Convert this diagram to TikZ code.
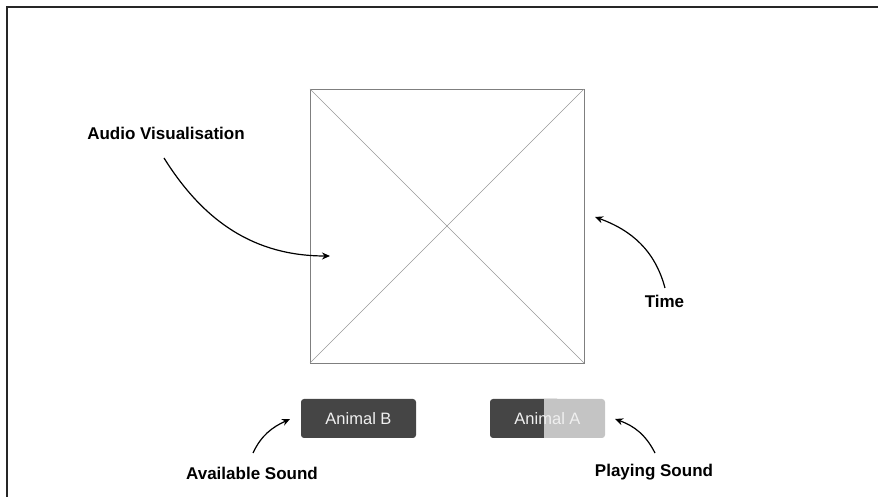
\documentclass[tikz,border=0pt]{standalone}
\usepackage{fontspec}
\setmainfont{Liberation Sans}
\usetikzlibrary{arrows.meta}
\definecolor{btndark}{HTML}{454545}
\definecolor{btnlight}{HTML}{C4C4C4}
\definecolor{wire}{HTML}{7F7F7F}
\begin{document}
\begin{tikzpicture}[x=1pt, y=1pt,
  every node/.style={inner sep=0pt},
  label/.style={font=\fontsize{17}{19}\selectfont\bfseries, text=black},
  btntext/.style={font=\fontsize{16.5}{18}\selectfont, text=white!94!black},
  pointer/.style={-{Stealth[length=8pt, width=7pt]}, line width=1.2pt, black}]
\useasboundingbox (0,0) rectangle (878,497);
% frame
\draw[line width=2pt, black!85] (7,0) -- (7,490) -- (878,490);

% placeholder for the visualisation
\coordinate (SW) at (310,134);
\coordinate (NE) at (584,408);
\draw[wire, line width=0.8pt] (SW) rectangle (NE);
\draw[wire!80, line width=0.5pt] (SW) -- (NE);
\draw[wire!80, line width=0.5pt] (310,408) -- (584,134);

% buttons
\fill[btndark, rounded corners=3pt] (301,59) rectangle (416,98);
\node[btntext] (B) at (358.5,78.5) {Animal B};
\fill[btndark, rounded corners=3pt] (490,59) rectangle (560,98);
\fill[btnlight, rounded corners=3pt] (530,59) rectangle (605,98);
\fill[btndark] (530,59) rectangle (544,98);
\node[btntext] (A) at (547.5,78.5) {Animal A};

% labels
\node[label] (vis) at (166,364) {Audio Visualisation};
\node[label] (time) at (664.5,196) {Time};
\node[label] (avail) at (252,24) {Available Sound};
\node[label] (play) at (654,25) {Playing Sound};

\coordinate (visS) at (164,339);
\coordinate (visE) at (330,241);
\coordinate (timeS) at (665,209);
\coordinate (timeE) at (595,280);
\coordinate (availS) at (253,44);
\coordinate (availE) at (290,78);
\coordinate (playS) at (655,44);
\coordinate (playE) at (615,78);

\draw[pointer] (visS) to[out=-58, in=180] (visE);
\draw[pointer] (timeS) to[out=105, in=-20] (timeE);
\draw[pointer] (availS) to[out=65, in=205] (availE);
\draw[pointer] (playS) to[out=117, in=-20] (playE);
\end{tikzpicture}
\end{document}
